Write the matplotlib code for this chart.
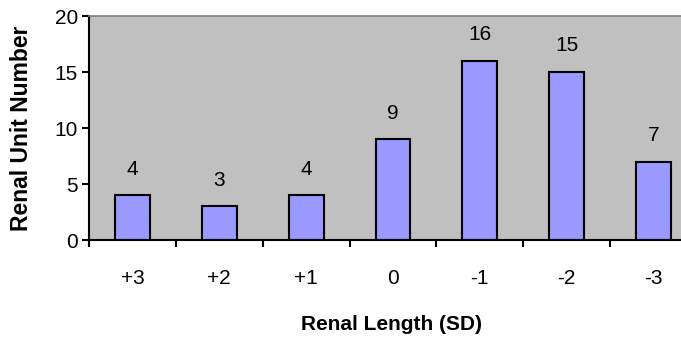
import numpy as np
import matplotlib
matplotlib.use("Agg")
import matplotlib.pyplot as plt

plt.rcParams['font.family'] = ['Liberation Sans', 'DejaVu Sans']

# data
categories = ['+3', '+2', '+1', '0', '-1', '-2', '-3']
counts = [4, 3, 4, 9, 16, 15, 7]

fig = plt.figure(figsize=(6.81, 3.37), dpi=100)
ax = fig.add_axes([89 / 681, 97 / 337, 608 / 681, 224 / 337])
ax.set_facecolor('#C0C0C0')

x = np.arange(len(categories))
ax.bar(x, counts, width=0.4, color='#9999FF', edgecolor='black', linewidth=1.5, zorder=2)

# value labels on top of the bars
for xi, v in zip(x, counts):
    ax.annotate(str(v), (xi, v), xytext=(0, 12), textcoords='offset points',
                ha='center', va='bottom', fontsize=15)

ax.set_xlim(-0.5, len(categories) - 0.5)
ax.set_ylim(0, 20)
ax.set_yticks([0, 5, 10, 15, 20])

# labels centred under bars, tick marks between categories
ax.set_xticks(x)
ax.set_xticklabels(categories)
ax.set_xticks(np.arange(len(categories) + 1) - 0.5, minor=True)
ax.tick_params(axis='x', which='major', length=0, pad=21, labelsize=15)
ax.tick_params(axis='x', which='minor', length=5, width=1.5, direction='out')
ax.tick_params(axis='y', length=5, width=1.5, direction='out', pad=3, labelsize=15)

for s in ['left', 'bottom']:
    ax.spines[s].set_linewidth(1.5)
ax.spines['top'].set_color('#808080')
ax.spines['top'].set_linewidth(1.2)
ax.spines['right'].set_visible(False)

ax.set_ylabel('Renal Unit Number', fontsize=16.5, fontweight='bold')
ax.yaxis.set_label_coords(-0.092, 0.5)
ax.set_xlabel('Renal Length (SD)', fontsize=15, fontweight='bold')
ax.xaxis.set_label_coords(0.498, -0.335)

fig.savefig('out.png', dpi=100)
